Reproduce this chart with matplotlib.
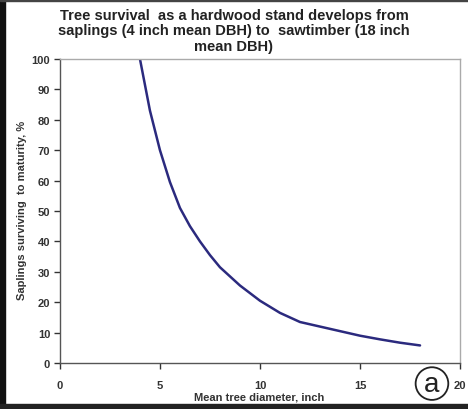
import matplotlib.pyplot as plt
from matplotlib.patches import Rectangle

# mean tree diameter (inch) vs saplings surviving to maturity (%)
diametro = [4, 4.5, 5, 5.5, 6, 6.5, 7, 7.5, 8, 9, 10, 11, 12, 13, 14, 15, 16, 17, 18]
supervivencia = [100, 83, 70, 59.5, 51, 45, 40, 35.5, 31.5, 25.5, 20.5, 16.5, 13.5, 12, 10.5, 9, 7.8, 6.7, 5.8]

x_ticks = [0, 5, 10, 15, 20]
y_ticks = list(range(0, 101, 10))

plt.rcParams['font.family'] = ['Liberation Sans', 'DejaVu Sans']

fig = plt.figure(figsize=(4.68, 4.10), dpi=100)
ax = fig.add_axes([0.128, 0.112, 0.855, 0.742])

ax.plot(diametro, supervivencia, color='#2b2a7e', linewidth=1.8,
        solid_capstyle='round', solid_joinstyle='round')

ax.set_xlim(0, 20)
ax.set_ylim(0, 100)
ax.set_xticks(x_ticks)
ax.set_yticks(y_ticks)
ax.tick_params(axis='both', direction='out', length=4, width=1, colors='#333333',
               labelsize=8, pad=3)
for lbl in ax.get_xticklabels() + ax.get_yticklabels():
    lbl.set_fontweight('bold')
    lbl.set_color('#333333')
ax.tick_params(axis='x', pad=8)

# bordes del area de trazado
ax.spines['left'].set_color('#555555')
ax.spines['bottom'].set_color('#555555')
ax.spines['top'].set_color('#aaaaaa')
ax.spines['right'].set_color('#aaaaaa')
for s in ax.spines.values():
    s.set_linewidth(1)

fig.text(0.553, 0.030, 'Mean tree diameter, inch', ha='center', va='center',
         fontsize=8, fontweight='bold', color='#333333')
fig.text(0.047, 0.487, 'Saplings surviving  to maturity, %', ha='center', va='center',
         rotation=90, fontsize=8, fontweight='bold', color='#333333')

fig.text(0.5, 0.978, 'Tree survival  as a hardwood stand develops from\n'
         'saplings (4 inch mean DBH) to  sawtimber (18 inch\nmean DBH)',
         ha='center', va='top', fontsize=10.5, fontweight='bold', color='#222222',
         linespacing=1.13)

# letra de panel
fig.text(0.923, 0.062, 'a', ha='center', va='center', fontsize=20, color='#222222',
         bbox=dict(boxstyle='circle,pad=0.12', facecolor='white', edgecolor='#222222', linewidth=1.3))

# marco negro de la captura
fig.patches.append(Rectangle((0, 0), 0.011, 1, transform=fig.transFigure, color='#111111'))
fig.patches.append(Rectangle((0, 0), 1, 0.012, transform=fig.transFigure, color='#222222'))
fig.patches.append(Rectangle((0, 0.996), 1, 0.004, transform=fig.transFigure, color='#444444'))

fig.savefig('out.png', dpi=100)
